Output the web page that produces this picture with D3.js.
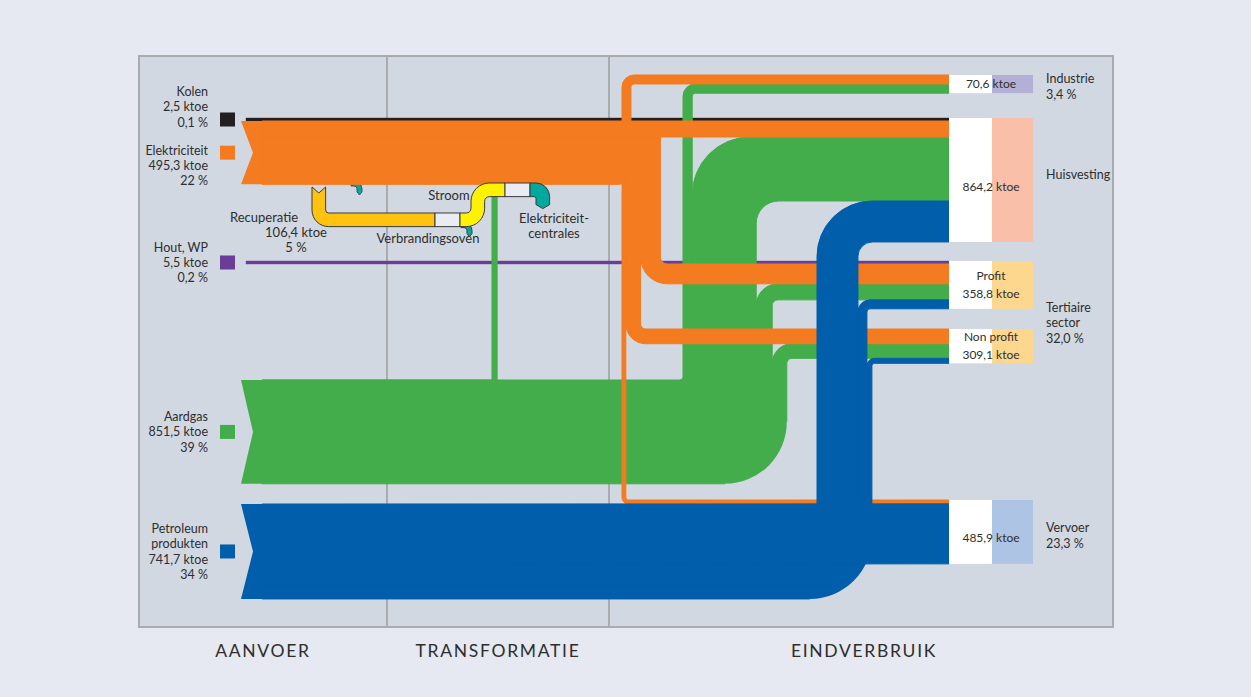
<!DOCTYPE html>
<html>
<head>
<meta charset="utf-8">
<script src="https://cdn.jsdelivr.net/npm/d3@7"></script>
<style>
  html, body { margin: 0; background: #e6e9f1; }
  svg { display: block; font-family: Lato, "Open Sans", sans-serif; }
  text { fill: #2e2e2e; }
</style>
</head>
<body>
<svg id="chart" width="1251" height="697"></svg>
<script>
// ---- Data ----
const sources = ["Kolen", "Elektriciteit", "Hout, WP", "Aardgas", "Petroleum produkten"];
const sourceLabels = [["Kolen"], ["Elektriciteit"], ["Hout, WP"], ["Aardgas"], ["Petroleum", "produkten"]];
const sourceValues = [2.5, 495.3, 5.5, 851.5, 741.7];
const sourceShares = ["0,1 %", "22 %", "0,2 %", "39 %", "34 %"];
const sourceColors = ["#231f20", "#f47b20", "#6a3d98", "#42ad4a", "#005eaa"];

const targets = ["Industrie", "Huisvesting", "Profit", "Non profit", "Vervoer"];
const targetValues = [70.6, 864.2, 358.8, 309.1, 485.9];
const targetColors = ["#b4afd6", "#f9bfa8", "#fed78f", "#fed78f", "#aec4e4"];
const targetNameInBox = [false, false, true, true, false];

const sectorLabels = [["Industrie", "3,4 %"], ["Huisvesting"], ["Tertiaire", "sector", "32,0 %"], ["Vervoer", "23,3 %"]];
const sectorTargets = [["Industrie"], ["Huisvesting"], ["Profit", "Non profit"], ["Vervoer"]];

const recupValue = 106.4;
const recupShare = "5 %";
const columns = ["AANVOER", "TRANSFORMATIE", "EINDVERBRUIK"];

// flows: [source, target, ktoe], in drawing order
const flows = [
  ["Kolen", "Huisvesting", 2.5],
  ["Hout, WP", "Profit", 5.5],
  ["Aardgas", "Elektriciteitcentrales", 40],
  ["Aardgas", "Industrie", 72],
  ["Aardgas", "Huisvesting", 500],
  ["Aardgas", "Profit", 125],
  ["Aardgas", "Non profit", 114],
  ["Elektriciteit", "Huisvesting", 125],
  ["Elektriciteit", "Industrie", 70],
  ["Elektriciteit", "Profit", 155],
  ["Elektriciteit", "Non profit", 115],
  ["Elektriciteit", "Vervoer", 30],
  ["Petroleum produkten", "Huisvesting", 320],
  ["Petroleum produkten", "Profit", 70],
  ["Petroleum produkten", "Non profit", 39],
  ["Petroleum produkten", "Vervoer", 469]
];

// ---- Layout ----
const panel = [139, 56, 1113, 627];
const columnEdges = [139, 387, 609, 1113];
const sourceTop = [118, 121, 261, 380, 504];
const targetTop = [75, 118, 261, 329, 500];
const labelAlign = ["bottom", "top", "middle", "middle", "middle"];
const targetStackOrder = ["Kolen", "Hout, WP", "Elektriciteit", "Aardgas", "Petroleum produkten"];
// order of flows inside each source band
const sourceStack = [
  { top: ["Huisvesting"] },
  { top: ["Huisvesting", "Profit", "Non profit", "Vervoer", "Industrie"] },
  { top: ["Profit"] },
  { over: ["Elektriciteitcentrales"], top: ["Industrie", "Huisvesting", "Profit", "Non profit"] },
  { top: ["Vervoer"], bottom: ["Non profit", "Profit", "Huisvesting"] }
];
// vertical lanes, left to right
const laneGroups = [
  { x: 622, flows: [["Elektriciteit", "Industrie"]] },
  { x: 622, sharp: true, flows: [["Elektriciteit", "Vervoer"], ["Elektriciteit", "Non profit"], ["Elektriciteit", "Profit"]] },
  { x: 492, flows: [["Aardgas", "Elektriciteitcentrales"]] },
  { x: 683, sharp: true, cut: 62, flows: [["Aardgas", "Industrie"], ["Aardgas", "Huisvesting"], ["Aardgas", "Profit"], ["Aardgas", "Non profit"]] },
  { x: 817, sharp: true, cut: 62, flows: [["Petroleum produkten", "Huisvesting"], ["Petroleum produkten", "Profit"], ["Petroleum produkten", "Non profit"]] }
];
const bandX = 241, notch = 12, flowX = 262, lineX = 246, endX = 949;
const boxEdges = [949, 992, 1033];
const centralesY = 190;
const maxBend = 58;
const sectorDy = [3, -5, 11, 4];
const boxDy = [0, 7, 0, 0, 6];
const columnDx = [0, 0, 3];
const panelFill = "#d1d8e2";

const wScale = d3.scaleLinear().domain([0, 1000]).range([0, 128]);
const thick = v => Math.max(3, wScale(v));
const fmt = v => d3.format(".1f")(v).replace(".", ",");

const svg = d3.select("#chart");

// ---- Nodes & links ----
const links = flows.map(([s, t, v]) => ({ s, t, v, w: thick(v) }));
const link = (s, t) => links.find(l => l.s === s && l.t === t);

const srcNodes = sources.map((name, i) => {
  const st = sourceStack[i];
  // a band is as thick as its stacked flows, unless flows are also stacked from the bottom
  const h = st.bottom ? thick(sourceValues[i]) : d3.sum(st.top, t => link(name, t).w);
  return { name, i, y0: sourceTop[i], y1: sourceTop[i] + h, h, line: h <= 3, color: sourceColors[i] };
});
links.forEach(l => { l.src = srcNodes[sources.indexOf(l.s)]; });

sourceStack.forEach((st, i) => {
  const n = srcNodes[i];
  (st.over || []).forEach(t => { link(n.name, t).sy0 = n.y0; });
  let y = n.y0;
  (st.top || []).forEach(t => { const l = link(n.name, t); l.sy0 = y; y += l.w; });
  let yb = n.y1;
  (st.bottom || []).forEach(t => { const l = link(n.name, t); yb -= l.w; l.sy0 = yb; });
});
links.forEach(l => { l.sy1 = l.sy0 + l.w; });

const tgtNodes = targets.map((name, i) => {
  let y = targetTop[i];
  links.filter(l => l.t === name)
    .sort((a, b) => targetStackOrder.indexOf(a.s) - targetStackOrder.indexOf(b.s))
    .forEach(l => { l.ty0 = y; y += l.w; l.ty1 = y; });
  return { name, i, y0: targetTop[i], y1: y };
});

const cuts = [];
laneGroups.forEach(g => {
  let x = g.x;
  g.flows.forEach(([s, t]) => {
    const l = link(s, t);
    l.lx0 = x; l.lx1 = x + l.w; l.sharp = !!g.sharp; x += l.w;
  });
  if (g.cut) {
    const last = link(...g.flows[g.flows.length - 1]);
    cuts.push({ source: last.s, x: last.lx1, y: last.sy1, r: g.cut });
  }
});

// ---- Path helpers ----
function radii(w) {
  const ri = Math.max(2.5, Math.min(24, w * 0.35));
  return [ri, ri + w, Math.min(ri + w, maxBend)];
}
function upPath(xs, sy0, sy1, lx0, lx1, ty0, ty1, xe, sharp) {
  const [ri, ro, rt] = radii(lx1 - lx0);
  const rs = sharp ? 0 : ro;
  return `M${xs},${sy0}H${lx0 - ri}A${ri},${ri} 0 0 0 ${lx0},${sy0 - ri}` +
    `V${ty0 + rt}A${rt},${rt} 0 0 1 ${lx0 + rt},${ty0}H${xe}V${ty1}` +
    `H${lx1 + ri}A${ri},${ri} 0 0 0 ${lx1},${ty1 + ri}` +
    `V${sy1 - rs}` + (rs ? `A${rs},${rs} 0 0 1 ${lx1 - rs},${sy1}` : "") + `H${xs}Z`;
}
function downPath(xs, sy0, sy1, lx0, lx1, ty0, ty1, xe, sharp) {
  const [ri, ro, rt] = radii(lx1 - lx0);
  const rs = sharp ? 0 : ro;
  return `M${xs},${sy0}H${lx1 - rs}` + (rs ? `A${rs},${rs} 0 0 1 ${lx1},${sy0 + rs}` : "") +
    `V${ty0 - ri}A${ri},${ri} 0 0 0 ${lx1 + ri},${ty0}H${xe}V${ty1}` +
    `H${lx0 + rt}A${rt},${rt} 0 0 1 ${lx0},${ty1 - rt}` +
    `V${sy1 + ri}A${ri},${ri} 0 0 0 ${lx0 - ri},${sy1}H${xs}Z`;
}
function flowPath(l) {
  const xs = l.src.line ? lineX : flowX;
  if (l.lx0 === undefined)
    return `M${xs},${l.sy0}L${endX},${l.ty0}L${endX},${l.ty1}L${xs},${l.sy1}Z`;
  if (l.ty0 === undefined)
    return `M${xs},${l.sy0}H${l.lx0}V${centralesY}H${l.lx1}V${l.sy1}H${xs}Z`;
  if (l.ty1 <= l.sy0) return upPath(xs, l.sy0, l.sy1, l.lx0, l.lx1, l.ty0, l.ty1, endX, l.sharp);
  return downPath(xs, l.sy0, l.sy1, l.lx0, l.lx1, l.ty0, l.ty1, endX, l.sharp);
}
function hookPath(x, y) {
  return `M${x},${y}H${x + 3}A8,8 0 0 1 ${x + 11},${y + 8}V${y + 11}L${x + 8.5},${y + 14}` +
    `L${x + 6},${y + 11}V${y + 8}A3,3 0 0 0 ${x + 3},${y + 5}H${x}Z`;
}

// ---- Panel ----
svg.append("rect")
  .attr("x", panel[0]).attr("y", panel[1])
  .attr("width", panel[2] - panel[0]).attr("height", panel[3] - panel[1])
  .attr("fill", panelFill).attr("stroke", "#a9abaf").attr("stroke-width", 2);

svg.selectAll("line.divider")
  .data(columnEdges.slice(1, -1))
  .join("line")
  .attr("class", "divider")
  .attr("x1", d => d).attr("x2", d => d)
  .attr("y1", panel[1]).attr("y2", panel[3])
  .attr("stroke", "#a9abaf").attr("stroke-width", 2);

svg.selectAll("text.column")
  .data(columns)
  .join("text")
  .attr("class", "column")
  .attr("x", (d, i) => (columnEdges[i] + columnEdges[i + 1]) / 2 + columnDx[i])
  .attr("y", 657)
  .attr("text-anchor", "middle")
  .attr("font-size", 17.5)
  .attr("letter-spacing", 1.7)
  .text(d => d);

// ---- Flows ----
const flowLayer = svg.append("g");
const outline = "#3a3a3a";
const drawOrder = ["Kolen", "Hout, WP", "Aardgas", "Elektriciteit", "Petroleum produkten"];

drawOrder.forEach(name => {
  const n = srcNodes[sources.indexOf(name)];
  if (name === "Elektriciteit") {
    // small teal outlet under the electricity band
    flowLayer.append("path").attr("d", hookPath(351, 181))
      .attr("fill", "#00a99d").attr("stroke", outline).attr("stroke-width", 0.8);
  }
  if (!n.line) {
    flowLayer.append("path")
      .attr("d", `M${bandX},${n.y0}H${flowX + 1}V${n.y1}H${bandX}L${bandX + notch},${(n.y0 + n.y1) / 2}Z`)
      .attr("fill", n.color);
  }
  const own = links.filter(l => l.s === name);
  const cut = cuts.find(c => c.source === name);
  // flows that bend, then the rounded outer corner, then straight flows
  const bent = own.filter(l => l.lx0 !== undefined), straight = own.filter(l => l.lx0 === undefined);
  flowLayer.selectAll(null)
    .data(bent)
    .join("path")
    .attr("d", flowPath)
    .attr("fill", n.color).attr("stroke", n.color).attr("stroke-width", 1);
  if (cut) {
    flowLayer.append("path")
      .attr("d", `M${cut.x - cut.r},${cut.y + 2}L${cut.x + 2},${cut.y + 2}L${cut.x + 2},${cut.y - cut.r}` +
        `H${cut.x}A${cut.r},${cut.r} 0 0 1 ${cut.x - cut.r},${cut.y}Z`)
      .attr("fill", panelFill);
  }
  flowLayer.selectAll(null)
    .data(straight)
    .join("path")
    .attr("d", flowPath)
    .attr("fill", n.color).attr("stroke", n.color).attr("stroke-width", n.line ? 0.4 : 1);
});

// ---- Transformation pipes ----
const pw = wScale(recupValue);
const px0 = 312, pTop = 187, pY = 213, ovenX = 435, boxW = 25, stroomY = 183, liftX = 471, stroomX = 505;
const pipe = svg.append("g").attr("stroke", outline).attr("stroke-width", 1);

pipe.append("path").attr("d", hookPath(ovenX + boxW + 1, pY + pw - 4)).attr("fill", "#00a99d");

const ri = 3, ro = ri + pw;
pipe.append("path")
  .attr("d", `M${px0},${pTop}L${px0 + pw / 2},${pTop + 6}L${px0 + pw},${pTop}V${pY - ri}` +
    `A${ri},${ri} 0 0 0 ${px0 + pw + ri},${pY}H${ovenX}V${pY + pw}H${px0 + ro}` +
    `A${ro},${ro} 0 0 1 ${px0},${pY + pw - ro}Z`)
  .attr("fill", "#fec20f");
pipe.append("rect").attr("x", ovenX).attr("y", pY).attr("width", boxW).attr("height", pw).attr("fill", "#e9ecf2");
pipe.append("path")
  .attr("d", upPath(ovenX + boxW, pY, pY + pw, liftX, liftX + pw, stroomY, stroomY + pw, stroomX, false))
  .attr("fill", "#fff200");
pipe.append("rect").attr("x", stroomX).attr("y", stroomY).attr("width", boxW).attr("height", pw).attr("fill", "#e9ecf2");
const tx = stroomX + boxW, ty1 = stroomY + pw;
pipe.append("path")
  .attr("d", `M${tx},${stroomY}H${tx + 6}A${pw},${pw} 0 0 1 ${tx + 6 + pw},${ty1}V${ty1 + 8}` +
    `L${tx + 6 + pw / 2},${ty1 + 12}L${tx + 6},${ty1 + 8}V${ty1 + 2}A2,2 0 0 0 ${tx + 4},${ty1}H${tx}Z`)
  .attr("fill", "#00a99d");

const tLabels = [
  { x: 264, y: 222, t: "Recuperatie" },
  { x: 296, y: 237, t: fmt(recupValue) + " ktoe" },
  { x: 296, y: 252, t: recupShare },
  { x: 428, y: 243, t: "Verbrandingsoven" },
  { x: 449, y: 200, t: "Stroom" },
  { x: 554, y: 223, t: "Elektriciteit-" },
  { x: 554, y: 238, t: "centrales" }
];
svg.selectAll("text.tlabel")
  .data(tLabels)
  .join("text")
  .attr("class", "tlabel")
  .attr("x", d => d.x).attr("y", d => d.y)
  .attr("text-anchor", "middle")
  .attr("font-size", 13)
  .text(d => d.t);

// ---- Source labels ----
const lh = 15.3;
srcNodes.forEach((n, i) => {
  const c = (n.y0 + n.y1) / 2;
  const rows = [...sourceLabels[i], fmt(sourceValues[i]) + " ktoe", sourceShares[i]];
  let first;
  if (labelAlign[i] === "bottom") first = c + 7 - (rows.length - 1) * lh;
  else if (labelAlign[i] === "top") first = c + 2;
  else first = c + 4.5 - (rows.length - 1) / 2 * lh;
  svg.append("rect")
    .attr("x", 220).attr("y", c - 7).attr("width", 15).attr("height", 14)
    .attr("fill", n.color);
  svg.append("g").selectAll("text")
    .data(rows)
    .join("text")
    .attr("x", 208)
    .attr("y", (d, j) => first + j * lh)
    .attr("text-anchor", "end")
    .attr("font-size", 12.5)
    .text(d => d);
});

// ---- Target boxes ----
tgtNodes.forEach((n, i) => {
  svg.append("rect").attr("x", boxEdges[0]).attr("y", n.y0)
    .attr("width", boxEdges[1] - boxEdges[0]).attr("height", n.y1 - n.y0).attr("fill", "#ffffff");
  svg.append("rect").attr("x", boxEdges[1]).attr("y", n.y0)
    .attr("width", boxEdges[2] - boxEdges[1]).attr("height", n.y1 - n.y0).attr("fill", targetColors[i]);
  const rows = targetNameInBox[i] ? [n.name, fmt(targetValues[i]) + " ktoe"] : [fmt(targetValues[i]) + " ktoe"];
  const c = (n.y0 + n.y1) / 2 + boxDy[i];
  svg.append("g").selectAll("text")
    .data(rows)
    .join("text")
    .attr("x", 991)
    .attr("y", (d, j) => c + 4 - (rows.length - 1) / 2 * 18 + j * 18)
    .attr("text-anchor", "middle")
    .attr("font-size", 12)
    .text(d => d);
});

// ---- Sector labels ----
sectorLabels.forEach((rows, i) => {
  const ns = sectorTargets[i].map(t => tgtNodes[targets.indexOf(t)]);
  const c = (d3.min(ns, d => d.y0) + d3.max(ns, d => d.y1)) / 2 + sectorDy[i];
  svg.append("g").selectAll("text")
    .data(rows)
    .join("text")
    .attr("x", 1046)
    .attr("y", (d, j) => c + 4 - (rows.length - 1) / 2 * 15.5 + j * 15.5)
    .attr("font-size", 12.5)
    .text(d => d);
});
</script>
</body>
</html>
